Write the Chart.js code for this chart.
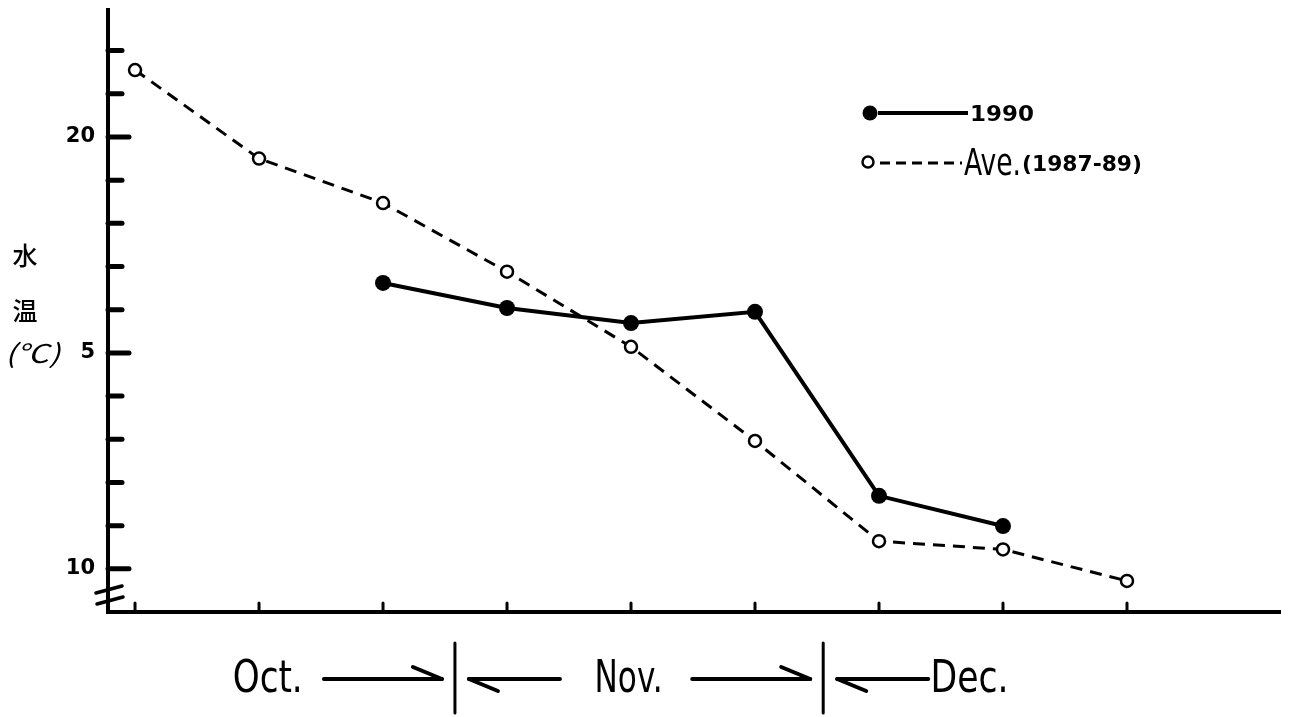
<!DOCTYPE html>
<html>
<head>
<meta charset="utf-8">
<script src="https://cdn.jsdelivr.net/npm/chart.js@4/dist/chart.umd.min.js"></script>
<style>
  html, body { margin: 0; padding: 0; background: #fff; }
  #wrap { width: 1290px; height: 717px; position: relative; }
</style>
</head>
<body>
<div id="wrap"><canvas id="c" width="1290" height="717"></canvas></div>
<script>
// Sampling occasions along the autumn season (index on the x axis)
const samplings = [0, 1, 2, 3, 4, 5, 6, 7, 8];
// Water temperature (°C), 1987-89 average
const ave8789 = [21.55, 19.5, 18.47, 16.88, 15.14, 12.96, 10.64, 10.45, 9.72];
// Water temperature (°C), 1990 season
const temp1990 = [null, null, 16.62, 16.04, 15.69, 15.95, 11.69, 10.99, null];

// Y axis tick marks and labelled ticks
const yTickValues = [10, 11, 12, 13, 14, 15, 16, 17, 18, 19, 20, 21, 22];
const yLabelValues = [20, 15, 10];
const yLabelTexts = ['20', '5', '10'];

// Month captions under the axis (positions in x-axis units)
const months = ['Oct.', 'Nov.', 'Dec.'];
const monthCenters = [1.07, 3.98, 6.73];
const monthBoundaries = [2.58, 5.55];

const yTitle = ['水', '温', '(℃)'];
const legendNames = ['1990', 'Ave.', '(1987-89)'];

const BLACK = '#000';

function toPoints(values) {
  return samplings.map((x, i) => ({ x: x, y: values[i] })).filter(p => p.y !== null);
}

function fitText(ctx, text, left, baseline, width, font) {
  ctx.save();
  ctx.font = font;
  const w = ctx.measureText(text).width;
  ctx.translate(left, baseline);
  ctx.scale(width / w, 1);
  ctx.textAlign = 'left';
  ctx.textBaseline = 'alphabetic';
  ctx.fillText(text, 0, 0);
  ctx.restore();
}

function seg(ctx, x1, y1, x2, y2, w) {
  ctx.lineWidth = w;
  ctx.beginPath();
  ctx.moveTo(x1, y1);
  ctx.lineTo(x2, y2);
  ctx.stroke();
}

const decorations = {
  id: 'decorations',
  afterDraw(chart) {
    const ctx = chart.ctx;
    const xs = chart.scales.x;
    const ys = chart.scales.y;
    const ca = chart.chartArea;
    ctx.save();
    ctx.strokeStyle = BLACK;
    ctx.fillStyle = BLACK;
    ctx.lineCap = 'round';

    // y tick marks pointing into the plot
    yTickValues.forEach(v => {
      const y = ys.getPixelForValue(v);
      const len = yLabelValues.includes(v) ? 21 : 14;
      seg(ctx, ca.left, y, ca.left + len, y, 5);
    });

    // x tick marks
    samplings.forEach(i => {
      const x = xs.getPixelForValue(i);
      seg(ctx, x, ca.bottom, x, ca.bottom - 9, 3);
    });

    // axis break marks
    seg(ctx, ca.left - 12, ca.bottom - 19, ca.left + 14, ca.bottom - 26, 3.5);
    seg(ctx, ca.left - 11, ca.bottom - 8, ca.left + 15, ca.bottom - 15, 3.5);

    // y axis title, stacked vertically
    ctx.textAlign = 'center';
    ctx.textBaseline = 'middle';
    ctx.font = '500 25px "Noto Sans CJK JP"';
    ctx.fillText(yTitle[0], 25, 255);
    ctx.fillText(yTitle[1], 25, 310);
    fitText(ctx, yTitle[2], 5, 363, 55, 'italic 26px "Noto Sans CJK JP"');

    // legend
    ctx.lineCap = 'butt';
    seg(ctx, 878, 113, 968, 113, 4);
    ctx.beginPath();
    ctx.arc(870, 113, 7.5, 0, Math.PI * 2);
    ctx.fill();
    fitText(ctx, legendNames[0], 970, 121, 64, 'bold 22px "DejaVu Sans"');

    ctx.setLineDash([10, 6]);
    seg(ctx, 880, 163, 962, 163, 3);
    ctx.setLineDash([]);
    ctx.beginPath();
    ctx.arc(868, 162, 5.5, 0, Math.PI * 2);
    ctx.fillStyle = '#fff';
    ctx.fill();
    ctx.lineWidth = 2.5;
    ctx.stroke();
    ctx.fillStyle = BLACK;
    fitText(ctx, legendNames[1], 964, 175, 57, '37px "Liberation Sans Narrow", "DejaVu Sans Condensed", "Liberation Sans"');
    fitText(ctx, legendNames[2], 1022, 171, 120, 'bold 21px "DejaVu Sans"');

    // month captions with arrows and boundary bars
    const capFont = '44px "Liberation Sans Narrow", "DejaVu Sans Condensed", "Liberation Sans"';
    const capWidths = [70, 68, 78];
    const baseline = 692;
    const ay = 679;
    months.forEach((m, k) => {
      const cx = xs.getPixelForValue(monthCenters[k]);
      fitText(ctx, m, cx - capWidths[k] / 2, baseline, capWidths[k], capFont);
    });
    ctx.lineCap = 'round';
    monthBoundaries.forEach(b => {
      const bx = xs.getPixelForValue(b);
      seg(ctx, bx, 643, bx, 713, 3);
      // arrow arriving from the left
      seg(ctx, bx - 131, ay, bx - 13, ay, 4);
      seg(ctx, bx - 13, ay, bx - 42, ay - 12, 4);
      // arrow leaving to the right
      seg(ctx, bx + 14, ay, bx + 105, ay, 4);
      seg(ctx, bx + 14, ay, bx + 43, ay + 12, 4);
    });
    ctx.restore();
  }
};

new Chart(document.getElementById('c').getContext('2d'), {
  type: 'line',
  data: {
    datasets: [
      {
        label: '1990',
        data: toPoints(temp1990),
        borderColor: BLACK,
        borderWidth: 4,
        pointRadius: 8,
        pointBackgroundColor: BLACK,
        pointBorderColor: BLACK,
        pointBorderWidth: 0,
        order: 0
      },
      {
        label: 'Ave. (1987-89)',
        data: toPoints(ave8789),
        borderColor: BLACK,
        borderWidth: 3,
        borderDash: [12, 8],
        pointRadius: 6,
        pointBackgroundColor: '#fff',
        pointBorderColor: BLACK,
        pointBorderWidth: 2.5,
        order: 1
      }
    ]
  },
  options: {
    responsive: false,
    animation: false,
    devicePixelRatio: 1,
    layout: { padding: { top: 10, right: 10, left: 0, bottom: 0 } },
    plugins: { legend: { display: false }, tooltip: { enabled: false } },
    scales: {
      x: {
        type: 'linear',
        min: -0.218,
        max: 9.234,
        grid: { display: false, drawTicks: false },
        border: { display: true, color: BLACK, width: 4 },
        ticks: { display: false },
        afterFit(s) {
          s.height = 105;
          s.paddingLeft = 0;
          s.paddingRight = 0;
        }
      },
      y: {
        min: 9,
        max: 22.94,
        grid: { display: false, drawTicks: false },
        border: { display: true, color: BLACK, width: 4 },
        ticks: {
          stepSize: 1,
          autoSkip: false,
          padding: 13,
          color: BLACK,
          font: { family: '"DejaVu Sans"', weight: 'bold', size: 21 },
          callback(v) {
            const k = yLabelValues.indexOf(v);
            return k >= 0 ? yLabelTexts[k] : '';
          }
        },
        afterFit(s) {
          s.width = 108;
          s.paddingTop = 0;
          s.paddingBottom = 0;
        }
      }
    }
  },
  plugins: [decorations]
});
</script>
</body>
</html>
